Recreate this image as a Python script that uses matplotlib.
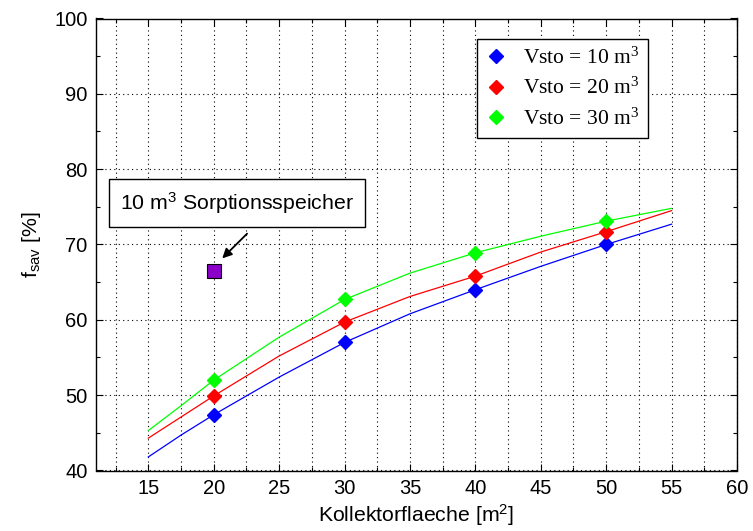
import matplotlib
matplotlib.use("Agg")
import matplotlib.pyplot as plt
from matplotlib.lines import Line2D
from matplotlib.ticker import MultipleLocator

# Collector areas at which the simulations were evaluated
area_pts = [20, 30, 40, 50]
fsav_10 = [47.4, 57.0, 64.0, 70.0]
fsav_20 = [49.9, 59.7, 65.8, 71.7]
fsav_30 = [52.0, 62.7, 68.9, 73.1]

# Fitted trend curves for each storage volume
area_curve = [15, 17.5, 20, 25, 30, 35, 40, 45, 50, 55]
curve_10 = [41.8, 44.7, 47.4, 52.4, 57.0, 60.8, 64.0, 67.1, 70.0, 72.7]
curve_20 = [44.3, 47.1, 49.9, 55.2, 59.7, 63.1, 65.8, 69.0, 71.7, 74.5]
curve_30 = [45.3, 48.6, 52.0, 57.7, 62.7, 66.2, 68.9, 71.1, 73.1, 74.8]

# Sorption storage reference point
sorption_area = [20]
sorption_fsav = [66.5]

series_labels = ["Vsto = 10 m$\\mathregular{^3}$",
                 "Vsto = 20 m$\\mathregular{^3}$",
                 "Vsto = 30 m$\\mathregular{^3}$"]
series_colors = ["#0000FF", "#FF0000", "#00FF00"]

SANS = "Liberation Sans"
SERIF = "Liberation Serif"
FS_TICK = 14.5
FS_LABEL = 15.3

fig = plt.figure(figsize=(7.53, 5.31), dpi=100)
ax = fig.add_axes([96 / 753, 1 - 470.5 / 531, (737 - 96) / 753, (470.5 - 18.5) / 531])

curves = [curve_10, curve_20, curve_30]
points = [fsav_10, fsav_20, fsav_30]
for cv, pt, col in zip(curves, points, series_colors):
    ax.plot(area_curve, cv, color=col, lw=0.9, zorder=3)
    ax.plot(area_pts, pt, linestyle="none", marker="D", markersize=7,
            color=col, markeredgecolor=col, zorder=4)

ax.plot(sorption_area, sorption_fsav, linestyle="none", marker="s", markersize=9.5,
        markerfacecolor="#8A00C8", markeredgecolor="black", markeredgewidth=0.8, zorder=4)

ax.set_xlim(11, 60)
ax.set_ylim(40, 100)
ax.xaxis.set_major_locator(MultipleLocator(5))
ax.xaxis.set_minor_locator(MultipleLocator(2.5))
ax.yaxis.set_major_locator(MultipleLocator(10))
ax.yaxis.set_minor_locator(MultipleLocator(5))

ax.grid(True, which="major", axis="both", linestyle=(0, (1, 3)), color="black", lw=0.8)
ax.grid(True, which="minor", axis="x", linestyle=(0, (1, 3)), color="black", lw=0.8)

ax.tick_params(which="both", direction="in", top=True, right=True,
               labelsize=FS_TICK, pad=6)
ax.tick_params(which="major", length=5, width=0.8)
ax.tick_params(which="minor", length=3, width=0.8)
for lab in ax.get_xticklabels() + ax.get_yticklabels():
    lab.set_fontfamily(SANS)
for sp in ax.spines.values():
    sp.set_linewidth(1.0)

ax.set_xlabel("Kollektorflaeche [m$\\mathregular{^2}$]", fontsize=FS_LABEL, family=SANS, labelpad=3)
ax.set_ylabel("f$\\mathregular{_{sav}}$ [%]", fontsize=FS_LABEL, family=SANS, labelpad=8)

handles = [Line2D([], [], linestyle="none", marker="D", markersize=7,
                  color=c, markeredgecolor=c) for c in series_colors]
leg = ax.legend(handles, series_labels, loc="upper right",
                bbox_to_anchor=((648 - 96) / 641, (470.5 - 39) / 452),
                prop={"family": SERIF, "size": 15.5}, frameon=True, fancybox=False,
                edgecolor="black", framealpha=1, handlelength=1.0, handletextpad=0.74,
                labelspacing=0.43, borderpad=0.4, borderaxespad=0)
leg.get_frame().set_linewidth(1.0)
leg.set_zorder(6)

ax.annotate("", xy=(20.5, 67.9), xytext=(22.7, 71.7),
            arrowprops=dict(arrowstyle="-|>", color="black", lw=1.3,
                            mutation_scale=14), zorder=5)
ax.text(21.77, 75.5, "10 m$\\mathregular{^3}$ Sorptionsspeicher", fontsize=FS_LABEL,
        family=SANS, ha="center", va="center", zorder=6,
        bbox=dict(boxstyle="square,pad=0.5", facecolor="white", edgecolor="black", lw=1.0))

fig.savefig("out.png", dpi=100)
